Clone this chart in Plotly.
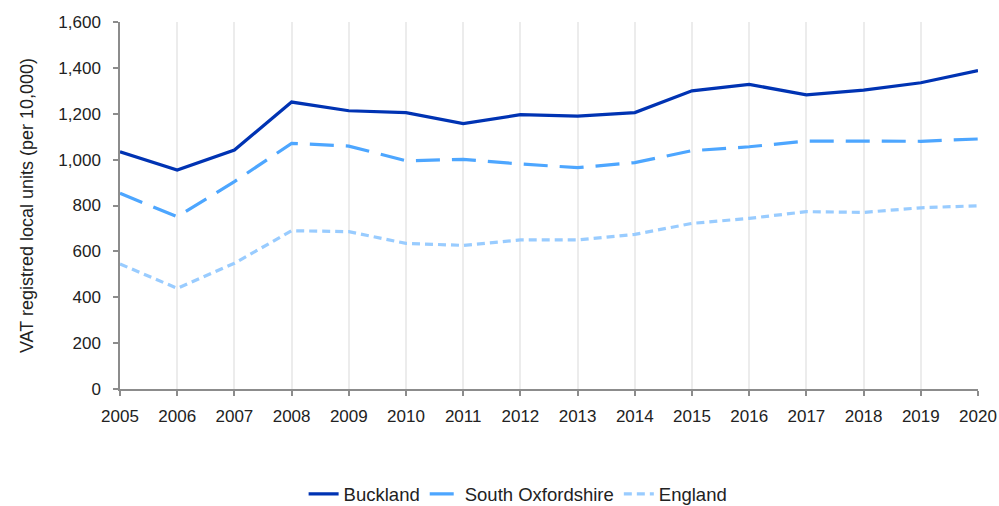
import plotly.graph_objects as go

years = list(range(2005, 2021))
buckland = [1034, 955, 1042, 1251, 1213, 1205, 1157, 1196, 1190, 1205, 1300, 1328, 1282, 1303, 1335, 1388]
south_oxon = [853, 751, 904, 1071, 1059, 995, 1001, 981, 965, 987, 1039, 1056, 1081, 1081, 1080, 1090]
england = [545, 439, 548, 690, 686, 635, 626, 650, 650, 674, 722, 744, 773, 770, 790, 799]
y_ticks = [0, 200, 400, 600, 800, 1000, 1200, 1400, 1600]

fig = go.Figure()
fig.add_trace(go.Scatter(x=years, y=buckland, name="Buckland", mode="lines",
                         line=dict(color="#0033b3", width=3.2, dash="solid")))
fig.add_trace(go.Scatter(x=years, y=south_oxon, name="South Oxfordshire", mode="lines",
                         line=dict(color="#4da6ff", width=3.2, dash="24px,12px")))
fig.add_trace(go.Scatter(x=years, y=england, name="England", mode="lines",
                         line=dict(color="#99ccff", width=3.2, dash="8px,5px")))

fig.update_layout(
    width=999, height=506,
    margin=dict(l=120, r=21, t=22, b=117, autoexpand=False),
    paper_bgcolor="white", plot_bgcolor="white",
    font=dict(family="Liberation Sans, Arial, sans-serif", size=17, color="#222222"),
    showlegend=True,
    legend=dict(orientation="h", x=0.464, xanchor="center", y=-0.287, yanchor="middle",
                font=dict(size=18.5), tracegroupgap=0),
)
fig.update_xaxes(
    range=[2005, 2020], tickmode="array", tickvals=years, ticktext=[str(y) for y in years],
    showgrid=True, gridcolor="#ececec", gridwidth=1.5,
    showline=True, linecolor="#8c8c8c", linewidth=1.5,
    ticks="outside", ticklen=5, tickcolor="#8c8c8c", tickwidth=1.5,
    zeroline=False, tickfont=dict(size=17), ticklabeloverflow="allow",
    ticklabelstandoff=6,
)
fig.update_yaxes(
    range=[0, 1600], tickmode="array", tickvals=y_ticks,
    ticktext=[f"{v:,}" for v in y_ticks],
    showgrid=False, showline=True, linecolor="#8c8c8c", linewidth=1.5,
    ticks="outside", ticklen=5, tickcolor="#8c8c8c", tickwidth=1.5,
    zeroline=False, tickfont=dict(size=17), ticklabeloverflow="allow",
    ticklabelstandoff=9,
    title=dict(text="VAT registred local units (per 10,000)", font=dict(size=18), standoff=20),
)

fig.write_html(
    "out.html",
    config={"displayModeBar": False},
    post_script="document.body.style.margin='0';document.body.style.overflow='hidden';",
)
